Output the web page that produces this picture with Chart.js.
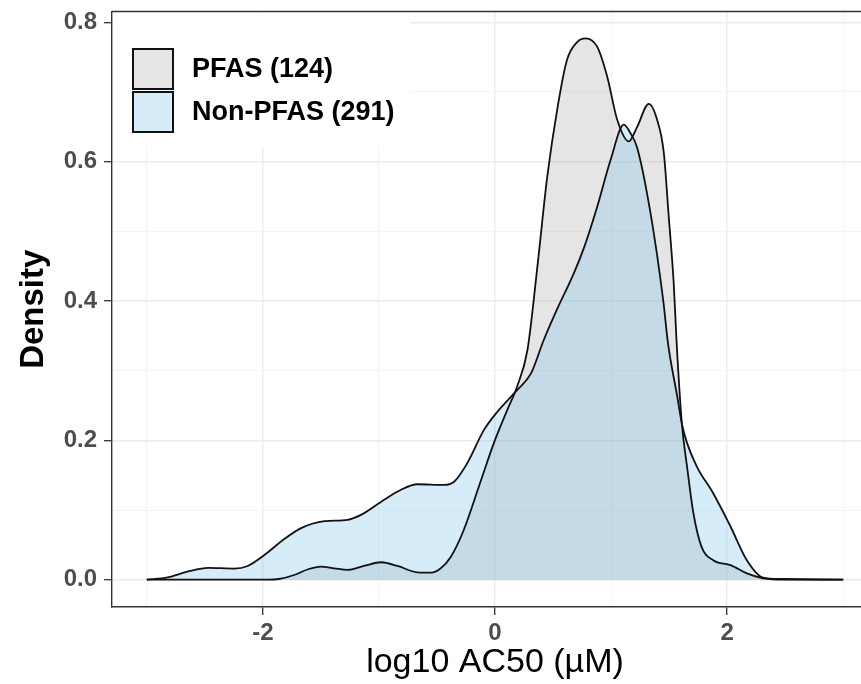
<!DOCTYPE html>
<html>
<head>
<meta charset="utf-8">
<title>log10 AC50 density</title>
<script src="https://cdn.jsdelivr.net/npm/chart.js@4.4.1/dist/chart.umd.min.js"></script>
<style>
  html, body { margin: 0; padding: 0; background: #fff; overflow: hidden; }
  #wrap { position: relative; width: 880px; height: 684px; }
</style>
</head>
<body>
<div id="wrap"><canvas id="chart"></canvas></div>
<script>
// density curves (x = log10 AC50 in uM)
const pfasX = [-3.0, -2.5, -1.95, -1.86, -1.73, -1.61, -1.5, -1.385, -1.27, -1.13, -0.98, -0.84, -0.67, -0.55, -0.47, -0.38, -0.27, -0.12, -0.01, 0.107, 0.19, 0.28, 0.365, 0.45, 0.54, 0.62, 0.71, 0.78, 0.88, 0.967, 1.053, 1.153, 1.225, 1.325, 1.397, 1.455, 1.497, 1.54, 1.565, 1.61, 1.655, 1.71, 1.78, 1.88, 2.03, 2.17, 2.31, 2.5, 3.0];
const pfasY = [0, 0, 0, 0.001, 0.0067, 0.015, 0.0187, 0.0163, 0.014, 0.0197, 0.025, 0.0197, 0.0106, 0.01, 0.016, 0.033, 0.071, 0.143, 0.196, 0.244, 0.277, 0.33, 0.449, 0.578, 0.679, 0.746, 0.772, 0.777, 0.765, 0.722, 0.66, 0.629, 0.65, 0.683, 0.66, 0.612, 0.521, 0.425, 0.34, 0.224, 0.162, 0.095, 0.047, 0.028, 0.021, 0.009, 0.002, 0, 0];

const nonPfasX = [-3.0, -2.82, -2.65, -2.47, -2.25, -2.13, -1.99, -1.81, -1.67, -1.47, -1.27, -1.155, -0.98, -0.81, -0.67, -0.44, -0.35, -0.24, -0.095, 0.02, 0.19, 0.31, 0.42, 0.54, 0.68, 0.77, 0.88, 0.995, 1.11, 1.17, 1.225, 1.34, 1.45, 1.49, 1.57, 1.61, 1.655, 1.74, 1.88, 2.03, 2.17, 2.31, 2.46, 3.0];
const nonPfasY = [0, 0.0034, 0.0115, 0.017, 0.016, 0.0197, 0.035, 0.059, 0.074, 0.084, 0.086, 0.093, 0.112, 0.129, 0.137, 0.136, 0.141, 0.167, 0.215, 0.241, 0.272, 0.296, 0.344, 0.39, 0.44, 0.478, 0.535, 0.602, 0.653, 0.64, 0.62, 0.526, 0.40, 0.34, 0.263, 0.224, 0.196, 0.162, 0.124, 0.076, 0.028, 0.003, 0.001, 0];

const seriesLabels = ["PFAS (124)", "Non-PFAS (291)"];
const xTicks = [-3, -2, -1, 0, 1, 2, 3];
const yTicks = [0, 0.1, 0.2, 0.3, 0.4, 0.5, 0.6, 0.7, 0.8];

const FONT = "'Liberation Sans', Arial, Helvetica, sans-serif";

function toPoints(xs, ys) {
  return xs.map((x, i) => ({ x: x, y: ys[i] }));
}

const isMajorX = v => Math.round(v) % 2 === 0;
const isMajorY = v => Math.round(v * 10) % 2 === 0;

// ggplot style legend sitting inside the panel, top left
const panelLegend = {
  id: "panelLegend",
  beforeDatasetsDraw(chart) {
    const { ctx, chartArea } = chart;
    ctx.save();
    ctx.fillStyle = "#ffffff";
    ctx.fillRect(chartArea.left + 1, chartArea.top + 1, 297, 135);
    chart.data.datasets.forEach((ds, i) => {
      const bx = chartArea.left + 21;
      const by = chartArea.top + 37.5 + i * 43;
      ctx.fillStyle = ds.backgroundColor;
      ctx.fillRect(bx, by, 40, 40);
      ctx.lineWidth = 2;
      ctx.strokeStyle = "#111";
      ctx.strokeRect(bx, by, 40, 40);
      ctx.fillStyle = "#000";
      ctx.font = "bold 27px " + FONT;
      ctx.textBaseline = "middle";
      ctx.textAlign = "left";
      ctx.fillText(ds.label, bx + 59, by + 21);
    });
    ctx.restore();
  },
  afterDraw(chart) {
    // top and right panel border (left/bottom come from the axes)
    const { ctx, chartArea } = chart;
    ctx.save();
    ctx.strokeStyle = "#333";
    ctx.lineWidth = 1.4;
    ctx.beginPath();
    ctx.moveTo(chartArea.left, chartArea.top);
    ctx.lineTo(chartArea.right, chartArea.top);
    ctx.lineTo(chartArea.right, chartArea.bottom);
    ctx.stroke();
    ctx.restore();
  }
};

const config = {
  type: "line",
  data: {
    datasets: [
      {
        label: seriesLabels[0],
        data: toPoints(pfasX, pfasY),
        backgroundColor: "rgba(168, 168, 168, 0.3)",
        borderColor: "#111",
        borderWidth: 1.8,
        fill: "origin",
        order: 2
      },
      {
        label: seriesLabels[1],
        data: toPoints(nonPfasX, nonPfasY),
        backgroundColor: "rgba(118, 192, 232, 0.3)",
        borderColor: "#111",
        borderWidth: 1.8,
        fill: "origin",
        order: 1
      }
    ]
  },
  options: {
    responsive: true,
    maintainAspectRatio: false,
    animation: false,
    devicePixelRatio: 1,
    layout: { padding: { top: 11.5, right: 2, left: 0, bottom: 0 } },
    elements: {
      point: { radius: 0, hoverRadius: 0 },
      line: { cubicInterpolationMode: "monotone" }
    },
    plugins: {
      legend: { display: false },
      tooltip: { enabled: false },
      filler: { drawTime: "beforeDatasetsDraw" }
    },
    scales: {
      x: {
        type: "linear",
        min: -3.3,
        max: 3.3,
        afterBuildTicks: scale => { scale.ticks = xTicks.map(v => ({ value: v })); },
        afterFit: scale => {
          scale.height = 77;
          scale.paddingLeft = 0;
          scale.paddingRight = 0;
        },
        ticks: {
          autoSkip: false,
          maxRotation: 0,
          padding: 4,
          color: "#4d4d4d",
          font: { family: FONT, size: 24, weight: "bold" },
          callback: v => (isMajorX(v) ? String(v) : "")
        },
        grid: {
          drawTicks: true,
          tickLength: 8,
          color: ctx => (isMajorX(ctx.tick.value) ? "#ebebeb" : "#f3f3f3"),
          lineWidth: ctx => (isMajorX(ctx.tick.value) ? 1.4 : 0.9),
          tickColor: ctx => (isMajorX(ctx.tick.value) ? "#333" : "rgba(0,0,0,0)"),
          tickWidth: 1.3
        },
        border: { display: true, color: "#333", width: 1.4 },
        title: {
          display: true,
          text: "log10 AC50 (\u00b5M)",
          color: "#000",
          font: { family: FONT, size: 34, weight: "normal" },
          padding: { top: 0, bottom: 1 }
        }
      },
      y: {
        type: "linear",
        min: -0.0392,
        max: 0.8155,
        afterBuildTicks: scale => { scale.ticks = yTicks.map(v => ({ value: v })); },
        afterFit: scale => {
          scale.width = 112;
          scale.paddingTop = 0;
          scale.paddingBottom = 0;
        },
        ticks: {
          padding: 7,
          color: "#4d4d4d",
          font: { family: FONT, size: 24, weight: "bold" },
          callback: v => (isMajorY(v) ? v.toFixed(1) : "")
        },
        grid: {
          drawTicks: true,
          tickLength: 8,
          color: ctx => (isMajorY(ctx.tick.value) ? "#ebebeb" : "#f3f3f3"),
          lineWidth: ctx => (isMajorY(ctx.tick.value) ? 1.4 : 0.9),
          tickColor: ctx => (isMajorY(ctx.tick.value) ? "#333" : "rgba(0,0,0,0)"),
          tickWidth: 1.3
        },
        border: { display: true, color: "#333", width: 1.4 },
        title: {
          display: true,
          text: "Density",
          color: "#000",
          font: { family: FONT, size: 33, weight: "bold" },
          padding: { top: 14, bottom: 0 }
        }
      }
    }
  },
  plugins: [panelLegend]
};

new Chart(document.getElementById("chart").getContext("2d"), config);
</script>
</body>
</html>
